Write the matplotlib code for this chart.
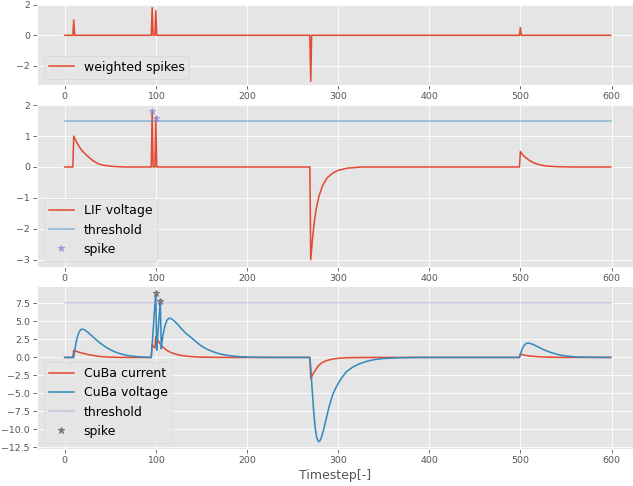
import matplotlib
matplotlib.use("Agg")
import matplotlib.pyplot as plt
from matplotlib.ticker import MultipleLocator

plt.style.use("ggplot")
plt.rcParams["xtick.labelsize"] = 9
plt.rcParams["ytick.labelsize"] = 9

# ---------------- data ----------------
t_range = [0, 599]

# weighted input spikes
ws_t = [0, 9, 10, 11, 95, 96, 97, 99, 100, 101, 269, 270, 271, 499, 500, 501, 599]
ws_v = [0, 0, 1.0, 0, 0, 1.8, 0, 0, 1.6, 0, 0, -3.0, 0, 0, 0.5, 0, 0]

# LIF neuron voltage
lif_t = [0, 9, 10, 12, 14, 16, 18, 20, 23, 26, 30, 34, 38, 44, 52, 65,
         95, 96, 97, 99, 100, 101,
         269, 270, 272, 274, 276, 279, 283, 288, 294, 300, 310, 325,
         499, 500, 503, 506, 510, 515, 520, 528, 540, 555, 599]
lif_v = [0, 0, 1.0, 0.87, 0.76, 0.66, 0.57, 0.5, 0.41, 0.33, 0.23, 0.15, 0.09, 0.05, 0.02, 0,
         0, 1.8, 0, 0, 1.6, 0,
         0, -3.0, -2.3, -1.75, -1.35, -0.95, -0.6, -0.35, -0.2, -0.11, -0.04, 0,
         0, 0.5, 0.38, 0.3, 0.21, 0.13, 0.08, 0.03, 0.01, 0, 0]
lif_threshold = 1.5
lif_spike_t = [96, 100]
lif_spike_v = [1.8, 1.6]

# CuBa neuron current
cur_t = [0, 9, 10, 12, 15, 20, 25, 30, 38, 48, 60, 80,
         95, 96, 97, 98, 99, 100, 102, 105, 108, 112, 116, 120, 126, 132, 140, 150, 165, 185,
         269, 270, 272, 275, 278, 282, 287, 293, 300, 310, 325, 345,
         499, 500, 505, 510, 520, 530, 545, 599]
cur_v = [0, 0, 1.0, 0.88, 0.75, 0.58, 0.42, 0.3, 0.14, 0.05, 0.01, 0,
         0, 1.8, 1.62, 1.46, 1.32, 2.9, 2.4, 1.85, 1.42, 1.0, 0.72, 0.52, 0.32, 0.2, 0.1, 0.04, 0.01, 0,
         0, -2.95, -2.4, -1.8, -1.2, -0.75, -0.45, -0.25, -0.12, -0.04, -0.01, 0,
         0, 0.45, 0.3, 0.2, 0.09, 0.04, 0.01, 0]

# CuBa neuron voltage
vol_t = [0, 10, 11, 12, 13, 14, 15, 16, 17, 18, 19, 20, 22, 25, 28, 32, 36, 40, 45, 50, 55, 60, 67, 75, 85,
         95, 96, 97, 98, 99, 100, 101, 102, 103, 104, 105, 106, 107, 108, 110, 112, 114, 115, 116, 118, 120,
         124, 128, 133, 138, 144, 150, 156, 163, 170, 178, 186, 195, 210, 230,
         269, 270, 271, 272, 273, 274, 275, 276, 277, 278, 279, 280, 282, 284, 287, 290, 294, 298, 303,
         309, 316, 324, 332, 340, 350, 365, 385,
         499, 500, 502, 504, 506, 508, 510, 514, 518, 522, 527, 532, 537, 543, 550, 560, 575, 599]
vol_v = [0, 0, 0.9, 1.7, 2.35, 2.85, 3.25, 3.55, 3.75, 3.88, 3.93, 3.92, 3.82, 3.55, 3.2, 2.75, 2.3, 1.9, 1.45, 1.08, 0.78, 0.55, 0.32, 0.16, 0.05,
         0, 1.7, 3.6, 5.5, 7.3, 8.9, 1.0, 2.8, 4.5, 6.2, 7.8, 1.2, 2.3, 3.2, 4.4, 5.1, 5.42, 5.45, 5.42, 5.3, 5.1,
         4.6, 4.0, 3.35, 2.85, 2.2, 1.6, 1.15, 0.78, 0.5, 0.3, 0.17, 0.08, 0.02, 0,
         0, -1.4, -3.4, -5.3, -7.1, -8.6, -9.9, -10.8, -11.3, -11.6, -11.7, -11.6, -11.0, -10.1, -8.5, -6.9, -5.2, -4.1, -3.0,
         -2.0, -1.35, -0.85, -0.52, -0.3, -0.15, -0.05, 0,
         0, 0.5, 1.2, 1.65, 1.9, 2.0, 1.98, 1.8, 1.55, 1.3, 1.0, 0.75, 0.55, 0.35, 0.2, 0.08, 0.02, 0]
cuba_threshold = 7.5
cuba_spike_t = [100, 105]
cuba_spike_v = [8.9, 7.8]

xticks = [0, 100, 200, 300, 400, 500, 600]

# ---------------- figure ----------------
fig = plt.figure(figsize=(8.44, 6.48), dpi=75)
W, H = 633.0, 486.0
left = 37.3 / W
width = (632.5 - 37.3) / W

def axes_at(top_px, bottom_px):
    return fig.add_axes([left, 1 - bottom_px / H, width, (bottom_px - top_px) / H])

ax1 = axes_at(4, 85)
ax2 = axes_at(104, 267)
ax3 = axes_at(286, 449)

ax1.plot(ws_t, ws_v, label="weighted spikes")
ax1.legend(loc="lower left", fontsize="large")

ax2.plot(lif_t, lif_v, label="LIF voltage")
ax2.plot(t_range, [lif_threshold] * 2, alpha=0.5, label="threshold")
ax2.plot(lif_spike_t, lif_spike_v, "*", alpha=0.8, label="spike")
ax2.legend(loc="lower left", fontsize="large")

ax3.plot(cur_t, cur_v, label="CuBa current")
ax3.plot(vol_t, vol_v, label="CuBa voltage")
ax3.plot(t_range, [cuba_threshold] * 2, alpha=0.4, label="threshold")
ax3.plot(cuba_spike_t, cuba_spike_v, "*", label="spike")
ax3.legend(loc="lower left", fontsize="large")
ax3.set_xlabel("Timestep[-]")
ax3.yaxis.set_major_locator(MultipleLocator(2.5))

for ax in (ax1, ax2, ax3):
    ax.set_xticks(xticks)
    ax.set_xlim(-30, 623)

fig.savefig("out.png", dpi=75)
